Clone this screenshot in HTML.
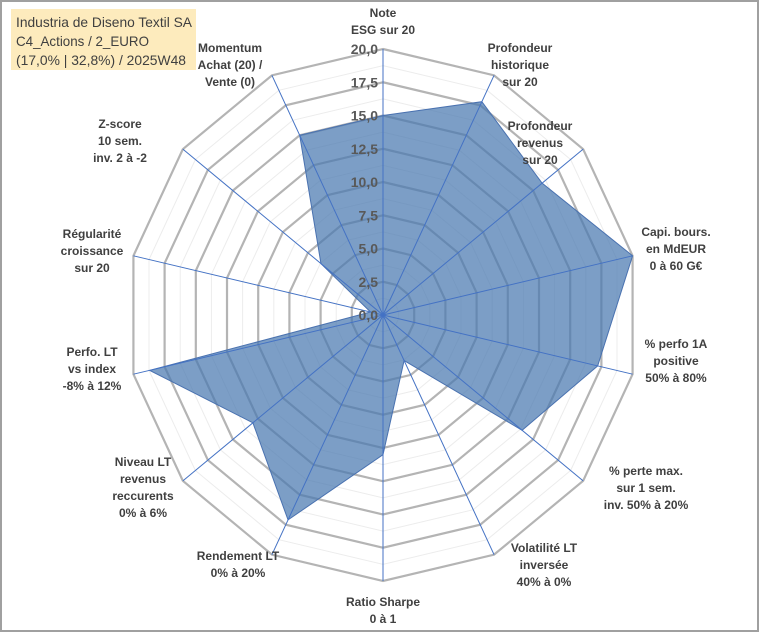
<!DOCTYPE html>
<html><head><meta charset="utf-8"><style>
html,body{margin:0;padding:0;background:#fff}
#wrap{position:relative;width:760px;height:633px;overflow:hidden}
svg text{font-family:"Liberation Sans",sans-serif}
</style></head><body>
<div id="wrap">
<svg id="chart" width="760" height="633">
<rect x="1" y="1" width="757" height="630" fill="#fff" stroke="#a0a0a0" stroke-width="2"/>
<rect x="11" y="9" width="185" height="61" fill="#fdebbd"/>
<text x="16" y="27" font-size="14" fill="#404040" textLength="176" lengthAdjust="spacingAndGlyphs">Industria de Diseno Textil SA</text>
<text x="16" y="46" font-size="14" fill="#404040" textLength="133" lengthAdjust="spacingAndGlyphs">C4_Actions / 2_EURO</text>
<text x="16" y="65" font-size="14" fill="#404040" textLength="170" lengthAdjust="spacingAndGlyphs">(17,0% | 32,8%) / 2025W48</text>
<g id="grid"></g><g id="series"></g><g id="ticks"></g><g id="labels"></g>
</svg></div>
<script>
const categories=["Note|ESG sur 20","Profondeur|historique|sur 20","Profondeur|revenus|sur 20","Capi. bours.|en MdEUR|0 à 60 G€","% perfo 1A|positive|50% à 80%","% perte max.|sur 1 sem.|inv. 50% à 20%","Volatilité LT|inversée|40% à 0%","Ratio Sharpe|0 à 1","Rendement LT|0% à 20%","Niveau LT|revenus|reccurents|0% à 6%","Perfo. LT|vs index|-8% à 12%","Régularité|croissance|sur 20","Z-score|10 sem.|inv. 2 à -2","Momentum|Achat (20) /|Vente (0)"];
const values=[15,17.8,15.9,20,17.2,13.9,3.8,10.5,17.1,13,18.7,1,6.2,15];
const tickLabels=["0,0","2,5","5,0","7,5","10,0","12,5","15,0","17,5","20,0"];
const labelPos=[[383,17],[520,52],[540,130],[676,236],[676,348],[646,475],[544,552],[383,606],[238,560],[143,466],[92,356],[92,238],[120,128],[230,52]];
const cx=383,cy=315,rx=256,ry=266,maxV=20,N=categories.length;
const NS="http://www.w3.org/2000/svg";
function pt(v,i){const a=2*Math.PI*i/N;return [cx+rx*(v/maxV)*Math.sin(a),cy-ry*(v/maxV)*Math.cos(a)];}
function mk(tag,attrs,parent){const e=document.createElementNS(NS,tag);for(const k in attrs)e.setAttribute(k,attrs[k]);parent.appendChild(e);return e;}
const g=document.getElementById('grid');
for(let s=1;s<=16;s++){const v=s*1.25;const p=[];for(let i=0;i<N;i++)p.push(pt(v,i).join(','));
const major=s%2===0;
const e=mk('polygon',{points:p.join(' '),fill:'none',stroke:major?'#b4b4b4':'#ececec','stroke-width':major?2.2:1},g);

}
const sg=document.getElementById('series');
const poly=[];for(let i=0;i<N;i++)poly.push(pt(values[i],i).join(','));
const area=mk('polygon',{points:poly.join(' '),fill:'#4a78b0','fill-opacity':0.72,stroke:'#4a72b0','stroke-width':1},sg);


const tg=document.getElementById('ticks');
for(let i=0;i<N;i++){const [x,y]=pt(maxV,i);
const l=mk('line',{x1:cx,y1:cy,x2:x,y2:y,stroke:'#4472c4','stroke-width':1},tg);

}
tickLabels.forEach((t,k)=>{const y=cy-ry*(k*2.5/maxV);
const e=mk('text',{x:cx-5,y:y+5,'text-anchor':'end','font-size':14,'font-weight':'bold',fill:'#595959'},tg);e.textContent=t;

});
const lg=document.getElementById('labels');
categories.forEach((c,i)=>{const lines=c.split('|');const [x,y]=labelPos[i];
const e=mk('text',{x:x,y:y,'text-anchor':'middle','font-size':12,'font-weight':'bold',fill:'#404040'},lg);


lines.forEach((ln,j)=>{const ts=mk('tspan',{x:x,dy:j===0?0:17},e);ts.textContent=ln;});});
</script>
</body></html>
